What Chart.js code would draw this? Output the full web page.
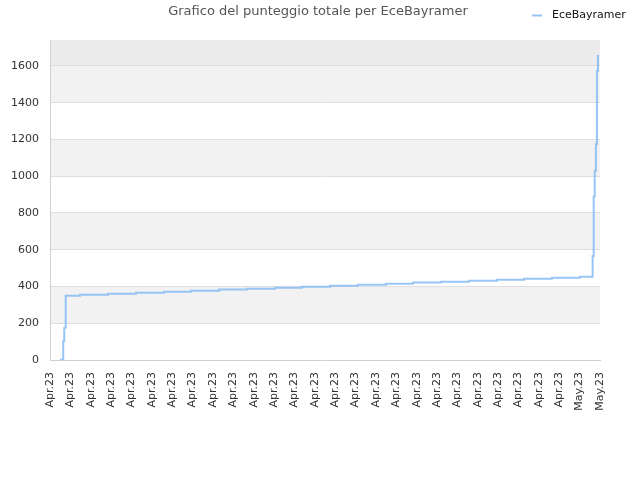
<!DOCTYPE html>
<html>
<head>
<meta charset="utf-8">
<script src="https://cdn.jsdelivr.net/npm/chart.js@4/dist/chart.umd.min.js"></script>
<style>
html,body{margin:0;padding:0;background:#fff;}
#wrap{width:640px;height:480px;}
</style>
</head>
<body>
<div id="wrap"><canvas id="c" width="640" height="480"></canvas></div>
<script>
const chartTitle = "Grafico del punteggio totale per EceBayramer";
const seriesName = "EceBayramer";
const xLabels = ["Apr.23","Apr.23","Apr.23","Apr.23","Apr.23","Apr.23","Apr.23","Apr.23","Apr.23","Apr.23","Apr.23","Apr.23","Apr.23","Apr.23","Apr.23","Apr.23","Apr.23","Apr.23","Apr.23","Apr.23","Apr.23","Apr.23","Apr.23","Apr.23","Apr.23","Apr.23","May.23","May.23"];
const yTicks = [0,200,400,600,800,1000,1200,1400,1600];
const yMax = 1741;
const pointX = [0.49,0.65,0.70,0.77,1.47,2.85,4.22,5.60,6.92,8.30,9.67,11.05,12.37,13.75,15.12,16.49,17.82,19.19,20.57,21.94,23.27,24.64,26.02,26.64,26.69,26.69,26.69,26.69,26.74,26.80,26.85,26.85,26.85,26.85,26.90];
const pointY = [2,103,176,350,355,361,366,372,377,383,388,393,399,404,410,415,421,426,431,437,442,448,453,566,684,749,814,889,1029,1175,1252,1397,1491,1573,1660];

const lineColor = "rgba(125,184,242,0.8)";
const data = pointX.map((x,i)=>({x:x,y:pointY[i]}));

const bandsPlugin = {
  id:'bands',
  beforeDraw(chart){
    const ctx = chart.ctx, a = chart.chartArea, y = chart.scales.y;
    ctx.save();
    ctx.fillStyle = '#fff';
    ctx.fillRect(0,0,chart.width,chart.height);
    for(let i=0;i<yTicks.length;i++){
      const lo = yTicks[i];
      const hi = i+1<yTicks.length ? yTicks[i+1] : yMax;
      let col = null;
      if(i+1>=yTicks.length) col = '#ececec';
      else if(i%2===1) col = '#f2f2f2';
      if(col){
        const y1 = y.getPixelForValue(hi), y0 = y.getPixelForValue(lo);
        ctx.fillStyle = col;
        ctx.fillRect(a.left, y1, a.right-a.left, y0-y1);
      }
    }
    ctx.restore();
  },
  afterDraw(chart){
    const ctx = chart.ctx;
    ctx.save();
    ctx.font = '13px "DejaVu Sans"';
    ctx.fillStyle = '#555';
    ctx.textAlign = 'center';
    ctx.textBaseline = 'middle';
    ctx.fillText(chartTitle, 318, 12);
    ctx.strokeStyle = lineColor;
    ctx.lineWidth = 2;
    ctx.beginPath();
    ctx.moveTo(532,15.5); ctx.lineTo(542,15.5);
    ctx.stroke();
    ctx.font = '11px "DejaVu Sans"';
    ctx.fillStyle = '#111';
    ctx.textAlign = 'left';
    ctx.fillText(seriesName, 552, 15);
    ctx.restore();
  }
};

new Chart(document.getElementById('c'), {
  type:'line',
  data:{datasets:[{
    label:seriesName,
    data:data,
    stepped:true,
    borderColor:lineColor,
    borderWidth:2,
    pointRadius:0,
    fill:false,
    tension:0
  }]},
  options:{
    responsive:false,
    animation:false,
    layout:{padding:{left:0,right:40,top:40,bottom:0}},
    plugins:{legend:{display:false},title:{display:false},tooltip:{enabled:false}},
    scales:{
      x:{
        type:'linear',
        min:0,max:27,
        afterBuildTicks(s){ s.ticks = xLabels.map((l,i)=>({value:i})); },
        afterFit(s){ s.height = 120; },
        grid:{display:false,drawTicks:false},
        border:{display:true,color:'#d0d0d0',width:1},
        ticks:{
          autoSkip:false,minRotation:90,maxRotation:90,padding:12,
          color:'#333',font:{family:'"DejaVu Sans"',size:11},
          callback:(v)=>xLabels[Math.round(v)]
        }
      },
      y:{
        min:0,max:yMax,
        afterBuildTicks(s){ s.ticks = yTicks.map(v=>({value:v})); },
        afterFit(s){ s.width = 50; },
        grid:{color:'#dedede',drawTicks:false},
        border:{display:true,color:'#d0d0d0',width:1},
        ticks:{padding:11,color:'#333',font:{family:'"DejaVu Sans"',size:11},callback:(v)=>String(v)}
      }
    }
  },
  plugins:[bandsPlugin]
});
</script>
</body>
</html>
